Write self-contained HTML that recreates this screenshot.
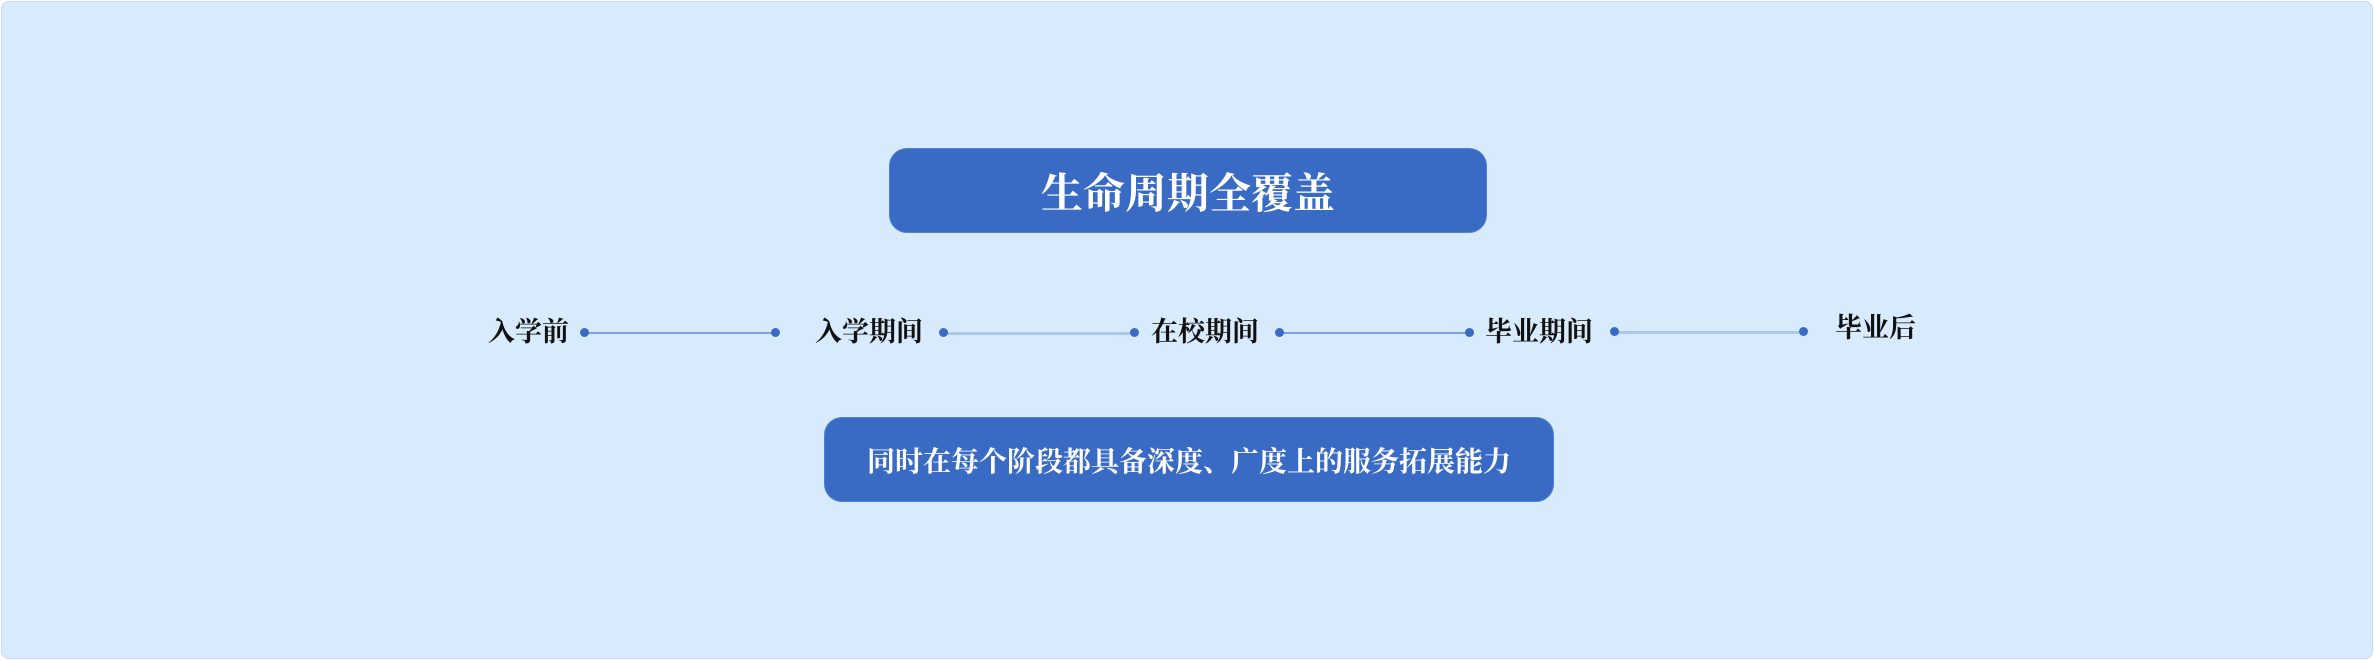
<!DOCTYPE html>
<html><head><meta charset="utf-8"><style>
body{margin:0;width:2374px;height:660px;background:#fff;position:relative;overflow:hidden;font-family:"Liberation Serif","Noto Serif CJK SC",serif;}
.bg{position:absolute;left:1px;top:1px;width:2370px;height:656px;background:#d7ebfd;border:1px solid #c5dcf2;border-radius:8px;}
.box{position:absolute;background:#3a6bc4;border-radius:18px;color:#fff;font-weight:bold;display:flex;align-items:center;justify-content:center;border:1px solid #4f80d4;}
.lbl{position:absolute;font-weight:bold;font-size:27px;color:#111;top:310px;white-space:nowrap;}
.ln{position:absolute;height:2px;background:#7aa3e2;top:332px;}
.dot{position:absolute;width:9px;height:9px;border-radius:50%;background:#3a6bc4;top:328px;}
</style></head><body>
<div class="bg"></div>
<div class="box" style="left:889px;top:148px;width:596px;height:83px;font-size:42px;">生命周期全覆盖</div>
<div class="box" style="left:824px;top:417px;width:728px;height:83px;font-size:28px;">同时在每个阶段都具备深度、广度上的服务拓展能力</div>
<div class="lbl" style="left:488px">入学前</div>
<div class="lbl" style="left:815px">入学期间</div>
<div class="lbl" style="left:1151px">在校期间</div>
<div class="lbl" style="left:1485px">毕业期间</div>
<div class="lbl" style="left:1835px;top:306px">毕业后</div>
<div class="ln" style="left:586px;width:190px"></div>
<div class="ln" style="left:945px;width:190px;background:#a9c7ef;height:3px"></div>
<div class="ln" style="left:1281px;width:190px"></div>
<div class="ln" style="left:1616px;width:189px;background:#a9c7ef;height:3px;top:331px"></div>
<div class="dot" style="left:580px"></div><div class="dot" style="left:771px"></div>
<div class="dot" style="left:939px"></div><div class="dot" style="left:1130px"></div>
<div class="dot" style="left:1275px"></div><div class="dot" style="left:1465px"></div>
<div class="dot" style="left:1610px;top:327px"></div><div class="dot" style="left:1799px;top:327px"></div>
</body></html>
